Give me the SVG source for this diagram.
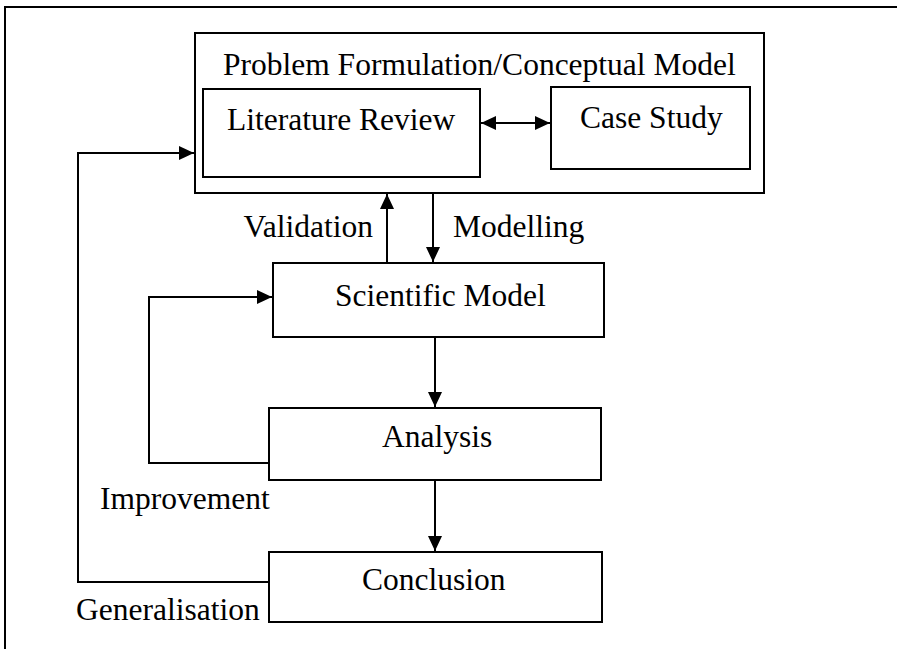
<svg xmlns="http://www.w3.org/2000/svg" width="897" height="649" viewBox="0 0 897 649">
  <style>
    .box { fill: none; stroke: #000; stroke-width: 2; }
    .line { fill: none; stroke: #000; stroke-width: 2; }
    text { font-family: "Liberation Serif", "Times New Roman", serif; font-size: 31.5px; fill: #000; }
  </style>
  <defs>
    <marker id="head" viewBox="0 0 15 14" refX="15" refY="7" markerWidth="15" markerHeight="14" markerUnits="userSpaceOnUse" orient="auto-start-reverse">
      <path d="M0,0 L15,7 L0,14 Z" fill="#000"/>
    </marker>
  </defs>
  <rect width="897" height="649" fill="#fff"/>

  <!-- page frame (top and left edges) -->
  <path class="line" d="M5,649 L5,7 L897,7"/>

  <g id="problem-formulation">
    <rect class="box" x="195" y="33" width="569" height="160"/>
    <text x="223" y="75">Problem Formulation/Conceptual Model</text>
  </g>
  <g id="literature-review">
    <rect class="box" x="203" y="89" width="277" height="88"/>
    <text x="227" y="130">Literature Review</text>
  </g>
  <g id="case-study">
    <rect class="box" x="551" y="87" width="199" height="82"/>
    <text x="580" y="128">Case Study</text>
  </g>
  <g id="scientific-model">
    <rect class="box" x="273" y="263" width="331" height="74"/>
    <text x="335" y="306">Scientific Model</text>
  </g>
  <g id="analysis">
    <rect class="box" x="269" y="408" width="332" height="72"/>
    <text x="382" y="447">Analysis</text>
  </g>
  <g id="conclusion">
    <rect class="box" x="269" y="552" width="333" height="70"/>
    <text x="362" y="590">Conclusion</text>
  </g>

  <g id="connectors">
    <!-- literature review <-> case study -->
    <path class="line" d="M481,123 L550,123" marker-start="url(#head)" marker-end="url(#head)"/>
    <!-- validation -->
    <path class="line" d="M387,263 L387,194" marker-end="url(#head)"/>
    <!-- modelling -->
    <path class="line" d="M433,194 L433,262" marker-end="url(#head)"/>
    <!-- scientific model -> analysis -->
    <path class="line" d="M435,337 L435,407" marker-end="url(#head)"/>
    <!-- analysis -> conclusion -->
    <path class="line" d="M435,480 L435,551" marker-end="url(#head)"/>
    <!-- improvement loop -->
    <path class="line" d="M269,463 L149,463 L149,297 L272,297" marker-end="url(#head)"/>
    <!-- generalisation loop -->
    <path class="line" d="M269,582 L78,582 L78,153 L194,153" marker-end="url(#head)"/>

    <text x="373" y="237" text-anchor="end">Validation</text>
    <text x="453" y="237">Modelling</text>
    <text x="100" y="509">Improvement</text>
    <text x="76" y="620">Generalisation</text>
  </g>
</svg>
